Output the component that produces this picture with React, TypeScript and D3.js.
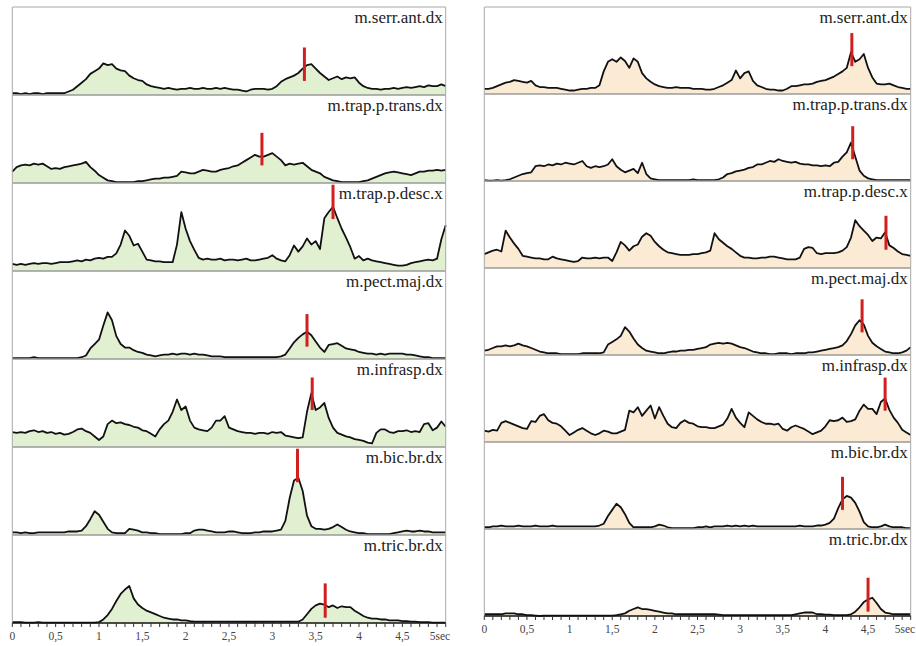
import React from 'react';
import * as d3 from 'd3';

// sampling step of every trace (seconds); traces span 0..5 s
const STEP = 0.05;

const ROW_LABELS = [
  'm.serr.ant.dx',
  'm.trap.p.trans.dx',
  'm.trap.p.desc.x',
  'm.pect.maj.dx',
  'm.infrasp.dx',
  'm.bic.br.dx',
  'm.tric.br.dx',
];

const TICK_VALUES = [0, 0.5, 1, 1.5, 2, 2.5, 3, 3.5, 4, 4.5, 5];
const TICK_LABELS = ['0', '0,5', '1', '1,5', '2', '2,5', '3', '3,5', '4', '4,5', '5sec'];

// ---- left panel (values: % of row height) ----
const leftSerrAnt = [2,2,1,2,1,2,2,1,2,2, 2,2,2,4,6,10,14,18,24,27, 30,36,34,35,30,28,27,22,19,17, 16,12,10,9,8,7,8,7,6,7, 7,8,7,7,8,7,7,8,7,8, 7,6,6,5,4,6,7,7,7,6, 7,10,15,18,20,22,25,30,34,35, 30,25,21,17,19,21,18,20,19,20, 14,10,8,7,7,6,7,7,8,7, 8,9,8,9,10,9,11,10,10,12, 10];
const leftTrapTrans = [13,18,20,21,20,22,21,22,19,16, 17,16,18,19,20,21,22,24,18,14, 9,6,3,2,1,1,1,1,1,2, 2,3,4,5,5,6,6,7,8,13, 12,11,11,13,15,14,13,13,15,16, 17,19,20,23,26,29,32,30,30,32, 34,30,26,20,22,21,22,23,19,15, 13,11,7,5,3,2,1,1,1,1, 1,2,3,5,7,9,11,12,13,12, 11,10,9,11,13,13,14,14,15,14, 15];
const leftTrapDesc = [8,7,8,7,8,9,8,9,9,8, 9,10,10,10,11,12,11,13,12,14, 15,14,16,16,20,30,46,40,29,31, 22,13,12,11,11,10,10,10,30,67, 48,34,24,15,13,14,13,13,14,12, 13,13,12,13,14,12,12,13,14,15, 18,14,12,11,18,29,22,28,37,30, 34,25,60,67,73,60,48,38,27,14, 17,12,14,12,11,10,9,8,7,6, 6,7,9,10,11,12,13,12,14,36, 52];
const leftPectMaj = [1,1,1,1,1,2,1,1,1,1, 1,1,1,1,1,1,2,4,12,17, 22,38,53,44,26,17,13,13,10,8, 7,5,4,3,4,5,5,6,5,6, 6,5,6,5,5,4,3,3,3,2, 2,2,2,2,2,2,2,2,2,2, 2,2,3,5,12,19,24,28,31,27, 20,13,8,16,17,18,15,12,11,10, 8,7,6,6,5,6,5,6,6,6, 6,5,5,4,3,2,2,1,1,1, 1];
const leftInfrasp = [17,16,17,16,18,19,17,18,16,17, 15,16,14,15,17,20,21,18,16,12, 8,12,26,30,27,28,26,25,23,22, 19,18,15,12,20,26,30,40,54,42, 46,30,22,20,19,18,22,30,30,35, 22,20,18,17,16,16,15,16,16,15, 17,16,17,13,12,11,10,11,40,61, 42,45,50,33,22,16,14,12,11,9, 8,7,5,4,16,20,20,17,16,18, 18,19,17,18,17,26,27,19,22,29, 23];
const leftBicBr = [3,3,2,3,2,2,3,3,3,3, 3,3,3,4,4,4,5,10,18,27, 23,15,7,3,2,2,2,7,6,5, 3,3,2,2,1,1,1,1,1,1, 2,2,5,6,6,5,4,3,3,3, 4,4,3,2,2,2,3,3,4,4, 4,5,6,16,42,62,65,50,22,10, 7,7,6,7,9,12,9,6,4,3, 2,2,1,1,1,1,1,1,2,3, 4,5,4,4,5,4,4,3,3,3, 3];
const leftTricBr = [1,1,1,0.5,0.5,0.5,1,0.5,0.5,0.5, 0.5,0.5,0.5,0.5,0.5,0.5,0.5,0.5,0.5,0.5, 1,4,9,16,25,33,38,42,28,21, 17,14,12,10,8,6,5,4,4,3, 3,2,1.5,1.5,1.5,1.5,1.5,1.5,1.5,1.5, 1.5,1.5,1.5,1.5,1.5,1.5,1.5,1.5,1.5,1.5, 1.5,1.5,1.5,1.5,1.5,1.5,1.5,4,10,16, 20,22,21,18,20,17,19,18,18,14, 11,8,6,5,5,4,4,3,3,3, 2,2,1.5,1.5,1,1,1,0.5,0.5,0.5, 0.5];

// ---- right panel ----
const rightSerrAnt = [6,6,7,9,11,13,14,16,15,14, 13,15,10,8,8,7,7,7,6,5, 4,4,5,6,6,7,7,10,26,37, 40,37,42,38,30,41,37,24,18,14, 11,9,8,7,7,8,7,7,7,6, 6,6,5,5,6,8,10,13,16,27, 18,24,26,15,10,8,6,5,5,4, 4,6,9,9,10,11,11,12,14,15, 16,18,20,23,26,30,48,37,40,46, 30,19,12,11,11,12,10,8,7,6, 6];
const rightTrapTrans = [1,0.5,0.5,1,0.5,1,2,4,6,8, 9,10,17,18,17,19,18,20,19,21, 20,19,21,23,17,15,17,16,17,19, 25,17,13,10,12,14,9,21,8,3, 2,1,1,1,1,1,1,1,1,2, 1,1,1,1,1,2,4,8,9,11, 12,13,15,16,19,19,21,23,22,25, 23,22,21,22,20,19,19,18,18,17, 18,17,21,22,28,33,44,28,12,6, 3,2,1,1,1,1,1,1,1,1, 1];
const rightTrapDesc = [16,18,20,21,19,43,35,28,22,14, 13,12,11,11,10,10,13,11,10,9, 8,7,8,12,11,11,12,11,12,12, 8,18,30,26,20,25,27,36,40,37, 30,25,21,18,17,16,15,15,15,16, 16,17,18,20,40,33,29,25,22,18, 14,12,12,11,11,12,12,13,13,12, 11,10,10,10,12,22,24,23,17,16, 17,17,17,18,20,24,35,55,48,43, 38,31,35,34,41,26,23,19,16,15, 14];
const rightPectMaj = [5,6,8,10,10,11,10,11,13,11, 10,8,6,4,3,2,2,2,1,1, 1,1,1,2,2,2,2,2,3,12, 15,18,22,32,27,19,12,8,5,4, 3,2,2,3,4,4,5,5,6,6, 7,8,9,12,13,14,13,14,13,11, 9,8,6,4,3,2,2,1,1,2, 2,2,1,2,2,2,3,3,4,5, 6,7,8,9,11,16,24,34,40,35, 22,14,10,7,4,3,2,2,3,5, 9];
const rightInfrasp = [13,12,14,13,22,24,22,20,18,16, 15,24,23,30,32,25,22,21,18,13, 8,11,14,16,13,10,8,10,13,12, 10,10,12,14,36,34,40,30,36,42, 27,40,30,21,17,16,22,25,22,21, 18,17,17,16,16,18,20,27,38,28, 22,17,34,30,26,23,21,21,20,21, 15,13,17,19,17,15,12,9,11,13, 18,25,24,25,28,23,24,26,36,43, 38,38,32,46,50,37,28,22,14,11, 8];
const rightBicBr = [2,2,3,3,4,3,3,3,4,3, 3,3,4,3,3,3,4,3,3,3, 3,3,3,3,3,3,3,4,6,15, 22,29,25,17,7,2,2,2,2,2, 3,5,4,2,1,1,1,1,1,1, 2,2,3,2,3,3,3,4,3,4, 3,4,3,4,3,3,3,3,3,3, 3,3,3,3,4,3,3,3,4,4, 5,7,12,24,34,38,36,30,20,8, 3,2,2,3,5,3,2,2,2,1, 1];
const rightTricBr = [2,2,2,2,2,3,3,3,2,2, 1,1,0.5,0,0.5,0.5,0.5,0.5,0.5,0.5, 0.5,0.5,0.5,0.5,0.5,0.5,0.5,0.5,0.5,0.5, 0.5,1,2,3,6,8,10,8,8,7, 6,5,4,3,3,2,2,2,2,2, 2,2,2,2,2,1.5,1,1,1,1, 1,1,1,1,1,1,1,1,1,1, 1,1,1,2,3,4,4,4,2,2, 1.5,1.5,1,1,1,1,2,5,10,16, 19,21,15,8,4,3,2,2,2,2, 2];

const LEFT_SERIES = [leftSerrAnt, leftTrapTrans, leftTrapDesc, leftPectMaj, leftInfrasp, leftBicBr, leftTricBr];
const RIGHT_SERIES = [rightSerrAnt, rightTrapTrans, rightTrapDesc, rightPectMaj, rightInfrasp, rightBicBr, rightTricBr];

// red markers: time (s), low and high end (% of row height)
const LEFT_MARK_T = [3.37, 2.88, 3.70, 3.40, 3.46, 3.29, 3.61];
const LEFT_MARK_LO = [16, 20, 59, 14, 42, 60, 6];
const LEFT_MARK_HI = [54, 57, 98, 51, 79, 98, 45];
const RIGHT_MARK_T = [4.31, 4.32, 4.71, 4.43, 4.70, 4.20, 4.50];
const RIGHT_MARK_LO = [32, 25, 21, 26, 36, 22, 5];
const RIGHT_MARK_HI = [70, 63, 60, 64, 74, 60, 44];

const FONT = "'Liberation Serif', 'Times New Roman', Times, 'DejaVu Serif', serif";

type PanelProps = {
  x0: number; x1: number; top: number; bottom: number; fill: string;
  series: number[][]; markT: number[]; markLo: number[]; markHi: number[];
};

function Panel({ x0, x1, top, bottom, fill, series, markT, markLo, markHi }: PanelProps) {
  const x = d3.scaleLinear().domain([0, 5]).range([x0, x1]);
  const rowH = (bottom - top) / series.length;
  const minorTicks = d3.range(0, 51).map((i) => i / 10);

  return (
    <g>
      {series.map((vals, r) => {
        const rTop = top + r * rowH;
        const rBot = rTop + rowH;
        const y = d3.scaleLinear().domain([0, 100]).range([rBot, rTop]);
        const area = d3.area<number>().x((_, i) => x(i * STEP)).y0(rBot).y1((v) => y(v));
        const line = d3.line<number>().x((_, i) => x(i * STEP)).y((v) => y(v));
        return (
          <g key={r}>
            <path d={area(vals) || ''} fill={fill} />
            <path d={line(vals) || ''} fill="none" stroke="#111" strokeWidth={1.8} strokeLinejoin="round" />
            <line x1={x(markT[r])} x2={x(markT[r])} y1={y(markLo[r])} y2={y(markHi[r])} stroke="#d11f1f" strokeWidth={3} />
            <text x={x1 - 3} y={rTop + 16} textAnchor="end" style={{ fontFamily: FONT, fontSize: '17px' }} fill="#222">
              {ROW_LABELS[r]}
            </text>
            {r < series.length - 1 && (
              <line x1={x0} x2={x1} y1={rBot} y2={rBot} stroke="#9a9a9a" strokeWidth={1.5} />
            )}
          </g>
        );
      })}
      {/* frame */}
      <line x1={x0} x2={x1} y1={top} y2={top} stroke="#a8a8a8" strokeWidth={1} />
      <line x1={x0} x2={x0} y1={top} y2={bottom} stroke="#a8a8a8" strokeWidth={1} />
      <line x1={x1} x2={x1} y1={top} y2={bottom} stroke="#a8a8a8" strokeWidth={1} />
      {/* time axis */}
      <line x1={x0} x2={x1} y1={bottom} y2={bottom} stroke="#111" strokeWidth={1.5} />
      {minorTicks.map((t) => (
        <line key={t} x1={x(t)} x2={x(t)} y1={bottom} y2={bottom + 4} stroke="#333" strokeWidth={1} />
      ))}
      {TICK_VALUES.map((t, i) => {
        const last = i === TICK_VALUES.length - 1;
        return (
          <text
            key={t}
            x={last ? x(t) - 16 : x(t)}
            y={bottom + 17}
            textAnchor={last ? 'start' : 'middle'}
            style={{ fontFamily: FONT, fontSize: '11.5px' }}
            fill="#444"
          >
            {TICK_LABELS[i]}
          </text>
        );
      })}
    </g>
  );
}

export default function App() {
  return (
    <svg width={916} height={646} style={{ position: 'absolute', left: 0, top: 0, background: '#fff' }}>
      <rect width={916} height={646} fill="#fff" />
      <Panel x0={12.3} x1={445.7} top={7} bottom={623} fill="#e2f0d2" series={LEFT_SERIES}
        markT={LEFT_MARK_T} markLo={LEFT_MARK_LO} markHi={LEFT_MARK_HI} />
      <Panel x0={484.3} x1={910.7} top={7} bottom={616} fill="#fcebd4" series={RIGHT_SERIES}
        markT={RIGHT_MARK_T} markLo={RIGHT_MARK_LO} markHi={RIGHT_MARK_HI} />
    </svg>
  );
}
